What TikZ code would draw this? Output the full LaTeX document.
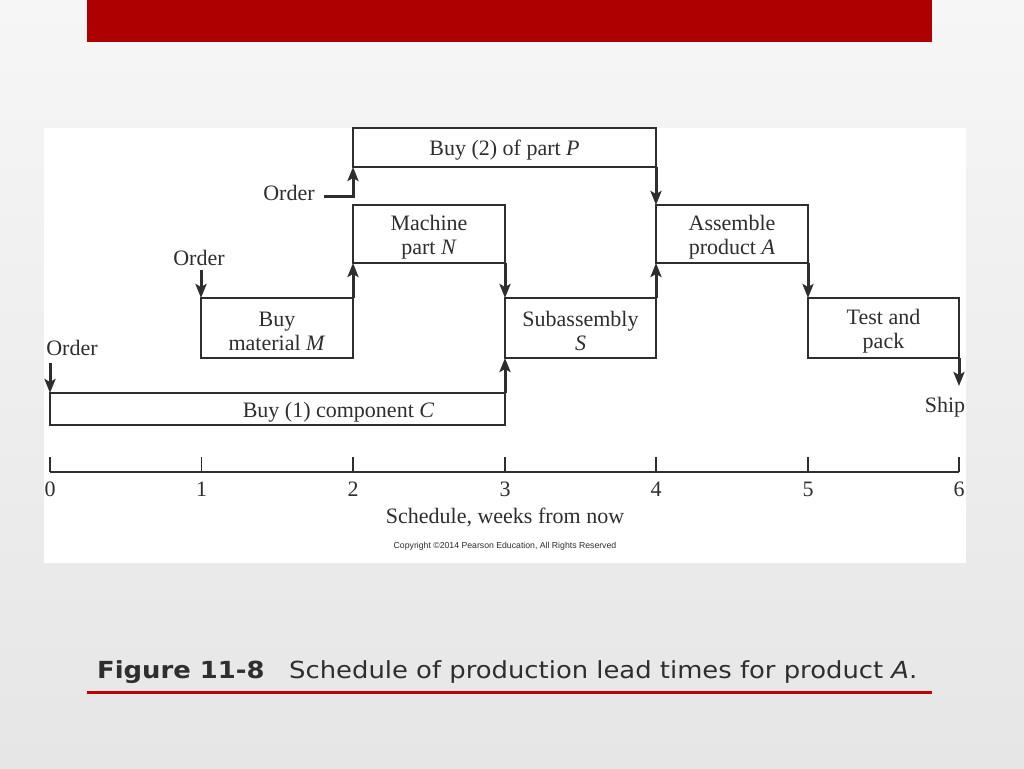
\documentclass[tikz,border=0pt]{standalone}
\usepackage{fontspec}
\setmainfont{Liberation Serif}
\newfontfamily\capfont[FakeStretch=1.1]{DejaVu Sans}
\newfontfamily\tinysans{Liberation Sans}
\usetikzlibrary{arrows.meta}
\definecolor{barred}{HTML}{AE0000}
\definecolor{linered}{HTML}{C00000}
\definecolor{ink}{HTML}{2E2E2E}
\definecolor{bgtop}{HTML}{F6F6F6}
\definecolor{bgbot}{HTML}{E6E6E6}
\tikzset{
  task/.style={draw=ink, line width=1.5pt, fill=white, inner sep=0pt, outer sep=0pt},
  lbl/.style={inner sep=0pt, font=\fontsize{22}{24}\selectfont, text=ink},
  tasktext/.style={lbl, align=center, yshift=-3pt},
  arr/.style={draw=ink, line width=3pt, -{Stealth[length=14pt,width=11pt,inset=3pt]}},
  axis/.style={draw=ink, line width=2.2pt},
  tick/.style={draw=ink, line width=1.3pt},
}
\begin{document}
\begin{tikzpicture}[x=1pt,y=-1pt]
\useasboundingbox (0,0) rectangle (1024,768);
\shade[top color=bgtop, bottom color=bgbot] (0,0) rectangle (1024,768);
\fill[barred] (87,0) rectangle (932,42);
\fill[white] (44,128) rectangle (966,563);

% task boxes
\node[task, minimum width=303pt, minimum height=39pt,
  label={[tasktext]center:Buy (2) of part \textit{P}}] (P) at (504.5,147.5) {};
\node[task, minimum width=152pt, minimum height=58pt,
  label={[tasktext]center:Machine\\part \textit{N}}] (N) at (429,234) {};
\node[task, minimum width=152pt, minimum height=60pt,
  label={[tasktext]center:Buy\\material \textit{M}}] (M) at (277,328) {};
\node[task, minimum width=455pt, minimum height=32pt,
  label={[tasktext, xshift=61pt]center:Buy (1) component \textit{C}}] (C) at (277.5,409) {};
\node[task, minimum width=152pt, minimum height=58pt,
  label={[tasktext]center:Assemble\\product \textit{A}}] (A) at (732,234) {};
\node[task, minimum width=151pt, minimum height=60pt,
  label={[tasktext]center:Subassembly\\\textit{S}}] (S) at (580.5,328) {};
\node[task, minimum width=151pt, minimum height=60pt,
  label={[tasktext]center:Test and\\pack}] (T) at (883.5,328) {};

% order labels and arrows
\node[lbl] (o1) at (72,348) {Order};
\node[lbl] (o2) at (199,258) {Order};
\node[lbl] (o3) at (289,193) {Order};
\coordinate (o1s) at (50,363);
\coordinate (o2s) at (201,270);
\coordinate (o3s) at (324,196);
\draw[arr] (o1s) -- (C.north west);
\draw[arr] (o2s) -- (M.north west);
\draw[arr] (o3s) -| (P.south west);

% precedence arrows
\draw[arr] (M.north east) -- (N.south west);
\draw[arr] (N.south east) -- (S.north west);
\draw[arr] (C.north east) -- (S.south west);
\draw[arr] (P.south east) -- (A.north west);
\draw[arr] (S.north east) -- (A.south west);
\draw[arr] (A.south east) -- (T.north west);
\coordinate (shipend) at (959,386);
\draw[arr] (T.south east) -- (shipend);
\node[lbl] (ship) at (945,407) {Ship};

% time axis
\draw[axis] (50,472) -- (959,472);
\foreach \i/\x in {0/50,1/201.5,2/353,3/505,4/656,5/808,6/959}{
  \draw[tick] (\x,457) -- (\x,472);
  \node[lbl] (t\i) at (\x,489) {\i};
}
\node[lbl] (axlabel) at (505,517) {Schedule, weeks from now};
\node[inner sep=0pt, text=ink, font=\tinysans\fontsize{8.7}{10}\selectfont] (copy) at (505,546)
  {Copyright \textcopyright2014 Pearson Education, All Rights Reserved};

% caption
\node[anchor=west, inner sep=0pt, text=ink, font=\capfont\bfseries\fontsize{23.5}{27}\selectfont] (fig) at (97,672) {Figure 11-8};
\node[anchor=west, inner sep=0pt, text=ink, font=\capfont\fontsize{23.5}{27}\selectfont] (cap) at (289,672) {Schedule of production lead times for product \textit{A}.};
\draw[linered, line width=3pt] (87,692) -- (932,692);
\end{tikzpicture}
\end{document}
